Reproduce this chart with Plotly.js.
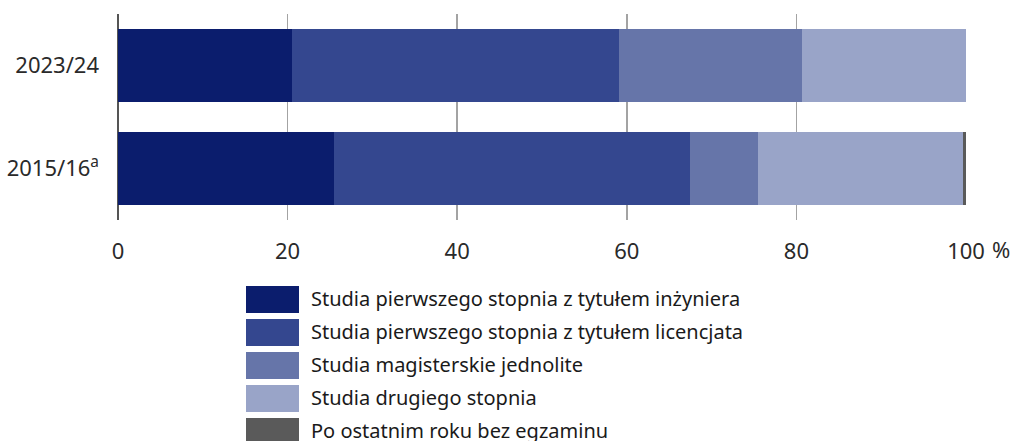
<!DOCTYPE html>
<html>
<head>
<meta charset="utf-8">
<script src="https://cdn.plot.ly/plotly-3.0.1.min.js"></script>
<style>
  html, body { margin: 0; padding: 0; background: #ffffff; }
  #chart { width: 1012px; height: 441px; }
</style>
</head>
<body>
<div id="chart"></div>
<script>
// ---- Data ----
const categories = ['2023/24', '2015/16<sup>a</sup>'];
const seriesNames = [
  'Studia pierwszego stopnia z tytułem inżyniera',
  'Studia pierwszego stopnia z tytułem licencjata',
  'Studia magisterskie jednolite',
  'Studia drugiego stopnia',
  'Po ostatnim roku bez egzaminu'
];
const inzyniera    = [20.5, 25.5];
const licencjata   = [38.6, 41.9];
const magisterskie = [21.6, 8.1];
const drugiego     = [19.3, 24.2];
const bezEgzaminu  = [0.0, 0.3];
const xTickVals  = [0, 20, 40, 60, 80, 100];
const xTickText  = ['0', '20', '40', '60', '80', '100'];
const unitLabel  = '%';

// ---- Styling ----
const colors = ['#0b1d6d', '#34478f', '#6675a9', '#99a4c8', '#5a5a5a'];
const seriesValues = [inzyniera, licencjata, magisterskie, drugiego, bezEgzaminu];
const FONT = 'Noto Sans, Open Sans, sans-serif';
const TICK_SIZE = 22;

const W = 1012, H = 441;
const margin = { l: 118, r: 46, t: 14, b: 221 };
const plotW = W - margin.l - margin.r;
const plotH = H - margin.t - margin.b;
const px2x = (px) => (px - margin.l) / plotW;
const py2y = (py) => (H - margin.b - py) / plotH;

const traces = seriesValues.map((vals, i) => ({
  type: 'bar',
  orientation: 'h',
  name: seriesNames[i],
  x: vals,
  y: categories,
  marker: { color: colors[i], line: { width: 0 } },
  hoverinfo: 'x+name',
  showlegend: false
}));

// Custom legend (large swatches)
const shapes = [];
const annotations = [];
const legendLeft = 246, legendRight = 299, legendTextX = 309;
const rowTop0 = 286, rowStep = 33, swatchH = 27;
seriesNames.forEach((name, i) => {
  const top = rowTop0 + i * rowStep;
  shapes.push({
    type: 'rect', xref: 'paper', yref: 'paper',
    x0: px2x(legendLeft), x1: px2x(legendRight),
    y0: py2y(top + swatchH), y1: py2y(top),
    fillcolor: colors[i], line: { width: 0 }, layer: 'above'
  });
  annotations.push({
    xref: 'paper', yref: 'paper',
    x: px2x(legendTextX), y: py2y(top + swatchH / 2 - 1),
    xanchor: 'left', yanchor: 'middle',
    text: name, showarrow: false,
    font: { family: FONT, size: 20, color: '#1a1a1a' }
  });
});

// unit label after the last tick
annotations.push({
  xref: 'paper', yref: 'paper',
  x: px2x(990), y: py2y(249),
  xanchor: 'left', yanchor: 'middle',
  text: unitLabel, showarrow: false,
  font: { family: FONT, size: TICK_SIZE, color: '#2a2a2a' }
});

const layout = {
  width: W, height: H,
  margin: margin,
  paper_bgcolor: '#ffffff',
  plot_bgcolor: '#ffffff',
  barmode: 'stack',
  bargap: 0.29,
  showlegend: false,
  xaxis: {
    range: [0, 100],
    tickvals: xTickVals,
    ticktext: xTickText,
    showgrid: true,
    gridcolor: '#a3a3a3',
    gridwidth: 1.5,
    zeroline: true,
    zerolinecolor: '#555555',
    zerolinewidth: 2,
    showline: false,
    ticks: '',
    ticklabelstandoff: 16,
    tickfont: { family: FONT, size: TICK_SIZE, color: '#2a2a2a' },
    fixedrange: true
  },
  yaxis: {
    type: 'category',
    categoryorder: 'array',
    categoryarray: categories,
    autorange: 'reversed',
    showgrid: false,
    zeroline: false,
    showline: false,
    ticks: '',
    ticklabelstandoff: 18,
    tickfont: { family: FONT, size: TICK_SIZE, color: '#2a2a2a' },
    fixedrange: true
  },
  shapes: shapes,
  annotations: annotations
};

Plotly.newPlot('chart', traces, layout, { displayModeBar: false, staticPlot: true });
</script>
</body>
</html>
